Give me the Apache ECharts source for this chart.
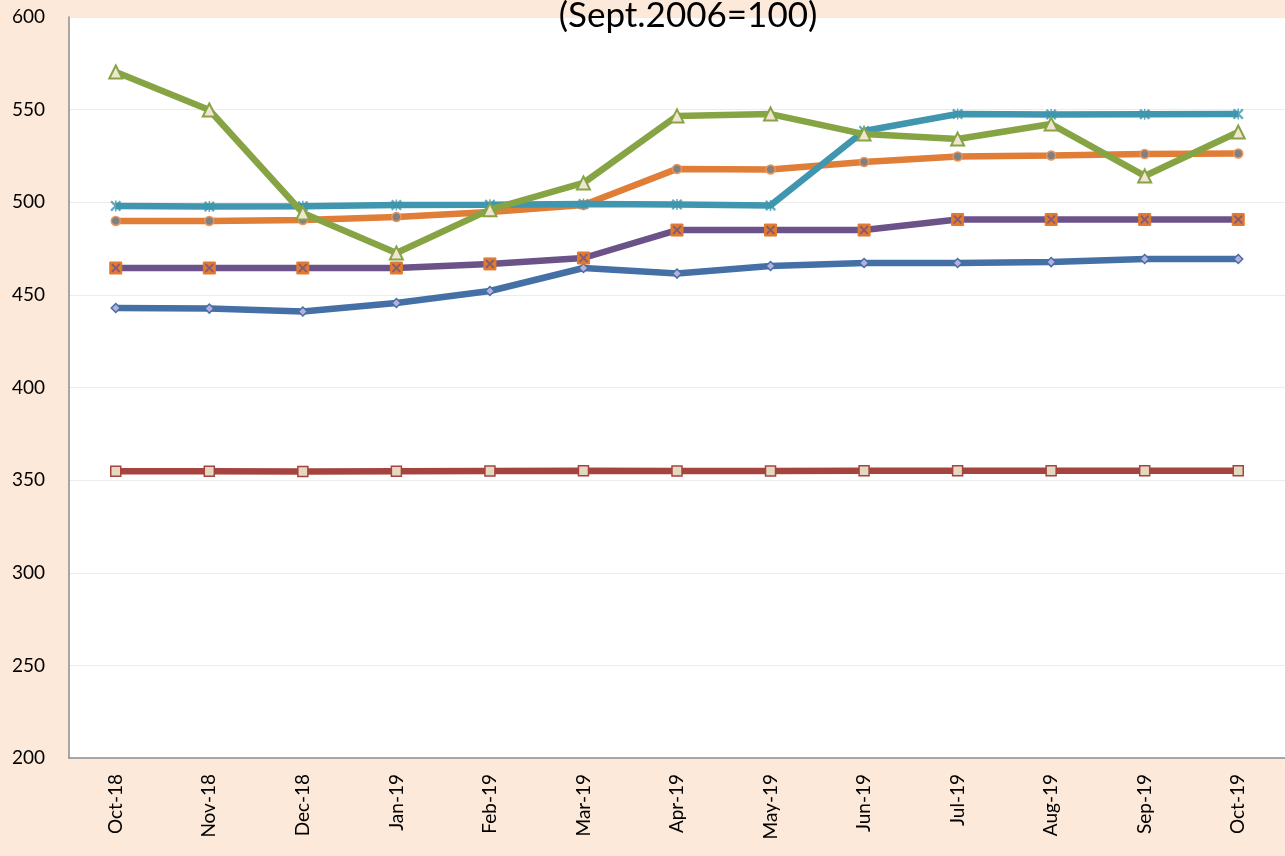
<!DOCTYPE html>
<html><head><meta charset="utf-8">
<script src="https://cdn.jsdelivr.net/npm/echarts@6/dist/echarts.min.js"></script>
<style>html,body{margin:0;padding:0;background:#FDE9D9;}#c{width:1285px;height:856px;}</style>
</head><body><div id="c"></div>
<script>
const categories = ['Oct-18','Nov-18','Dec-18','Jan-19','Feb-19','Mar-19','Apr-19','May-19','Jun-19','Jul-19','Aug-19','Sep-19','Oct-19'];
const titleText = '(Sept.2006=100)';
const yTicks = [200, 600, 50];
const redSeries    = [354.8,354.8,354.7,354.8,354.9,355.0,354.9,354.9,355.0,355.1,355.0,355.0,355.1];
const blueSeries   = [442.9,442.6,441.0,445.6,452.1,464.5,461.5,465.6,467.2,467.2,467.7,469.4,469.4];
const purpleSeries = [464.5,464.5,464.5,464.5,466.7,469.9,485.0,485.0,485.0,490.7,490.7,490.7,490.7];
const orangeSeries = [489.9,489.9,490.4,492.0,494.7,498.5,518.0,517.7,521.7,524.7,525.2,526.0,526.3];
const tealSeries   = [498.0,497.7,497.9,498.5,498.6,499.0,498.8,498.3,538.5,547.6,547.4,547.5,547.6];
const greenSeries  = [570.3,549.8,494.2,472.6,496.0,510.4,546.6,547.6,536.8,534.1,542.2,514.2,537.9];

const xPath = 'path://M0,1.5L1.5,0L5,3.5L8.5,0L10,1.5L6.5,5L10,8.5L8.5,10L5,6.5L1.5,10L0,8.5L3.5,5Z';
const starPath = 'path://M0,1.5L1.5,0L5,3.5L8.5,0L10,1.5L6.5,5L10,8.5L8.5,10L5,6.5L1.5,10L0,8.5L3.5,5Z M4.3,0L5.7,0L5.7,10L4.3,10Z';

function line(name, data, color, symbol, size, fill, border, bw, z){
  return {name, type:'line', data, z, symbol, symbolSize:size, showSymbol:true,
    lineStyle:{color, width:6.5}, itemStyle:{color:fill, borderColor:border, borderWidth:bw},
    emphasis:{disabled:true}, animation:false};
}
function overlay(name, data, color, symbol, size, z){
  return {name:name+'_m', type:'scatter', data, z, symbol, symbolSize:size,
    itemStyle:{color}, emphasis:{disabled:true}, animation:false, silent:true};
}

const chart = echarts.init(document.getElementById('c'));
chart.setOption({
  backgroundColor:'#FDE9D9',
  animation:false,
  title:{text:titleText, left:683, top:-7, textAlign:'center', z:20,
    textStyle:{fontFamily:'Lato', fontSize:35, fontWeight:'normal', color:'#000'}},
  grid:{left:69, top:17, width:1223, height:741, backgroundColor:'#fff', show:true, borderWidth:0},
  xAxis:{type:'category', data:categories, boundaryGap:true,
    axisLine:{lineStyle:{color:'#8c8c8c', width:1.5}}, axisTick:{show:false},
    axisLabel:{rotate:90, margin:16, color:'#000', fontFamily:'Lato', fontSize:19, interval:0},
    splitLine:{show:false}},
  yAxis:{type:'value', min:yTicks[0], max:yTicks[1], interval:yTicks[2],
    axisLine:{show:true, lineStyle:{color:'#8c8c8c', width:1.5}}, axisTick:{show:false},
    axisLabel:{margin:24, color:'#000', fontFamily:'Lato', fontSize:19},
    splitLine:{lineStyle:{color:'#ececec', width:1}}},
  series:[
    line('red', redSeries, '#A5443F', 'rect', 10, '#E4D9C0', '#A5443F', 1.5, 2),
    line('blue', blueSeries, '#4470A6', 'diamond', 9, '#B8B0DA', '#4470A6', 1.5, 3),
    line('purple', purpleSeries, '#6B538A', 'rect', 12, '#E07A2E', '#E07A2E', 1, 4),
    overlay('purple', purpleSeries, '#6B538A', xPath, 9, 5),
    line('orange', orangeSeries, '#E07D37', 'circle', 9, '#808080', '#E8965F', 1.5, 6),
    line('teal', tealSeries, '#3F96AE', 'none', 1, '#3F96AE', '#3F96AE', 0, 7),
    overlay('teal', tealSeries, '#3F96AE', starPath, 11, 8),
    line('green', greenSeries, '#86A444', 'triangle', 13, '#F1E4D2', '#86A444', 2, 9)
  ]
});
</script></body></html>
